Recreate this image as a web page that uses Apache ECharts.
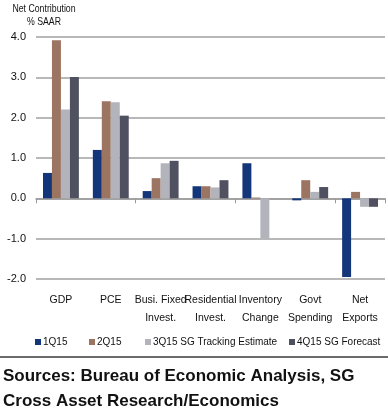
<!DOCTYPE html>
<html><head><meta charset="utf-8">
<script src="https://cdn.jsdelivr.net/npm/echarts@6/dist/echarts.min.js"></script>
<style>html,body{margin:0;padding:0;background:#fff}#c{width:388px;height:415px}</style>
</head><body><div id="c"></div>
<script>
const categories = ['GDP', 'PCE', 'Busi. Fixed\nInvest.', 'Residential\nInvest.', 'Inventory\nChange', 'Govt\nSpending', 'Net\nExports'];
const q1 = [0.63, 1.2, 0.18, 0.3, 0.87, -0.05, -1.95];
const q2 = [3.92, 2.41, 0.5, 0.3, 0.02, 0.45, 0.16];
const q3 = [2.2, 2.38, 0.87, 0.27, -1.0, 0.16, -0.21];
const q4 = [3.01, 2.05, 0.93, 0.45, 0, 0.28, -0.21];
const seriesNames = ['1Q15', '2Q15', '3Q15 SG Tracking Estimate', '4Q15 SG Forecast'];
const colors = ['#13367a', '#9c7462', '#b2b3bb', '#4f5060'];
const yTicks = { min: -2, max: 4, interval: 1 };

const FONT = '"Liberation Sans", Arial, sans-serif';
const chart = echarts.init(document.getElementById('c'), null, { renderer: 'canvas' });
const data = [q1, q2, q3, q4];
const legendLeft = [35, 89, 145, 289];
chart.setOption({
  animation: false,
  textStyle: { fontFamily: FONT },
  grid: { left: 36, right: 3, top: 37, bottom: 136, containLabel: false },
  legend: seriesNames.map((n, i) => ({
    data: [n], left: legendLeft[i], top: 337, padding: 0,
    icon: 'rect', itemWidth: 6, itemHeight: 6,
    textStyle: { fontFamily: FONT, fontSize: 10, color: '#111', padding: [0, 0, 0, -3] }
  })),
  xAxis: [
    { type: 'category', data: categories,
      axisLine: { onZero: true, lineStyle: { color: '#9a9a9a', width: 1.5 } },
      axisTick: { show: true, length: 5, lineStyle: { color: '#9a9a9a' } },
      axisLabel: { show: false } },
    { type: 'category', data: categories, position: 'bottom',
      axisLine: { show: false }, axisTick: { show: false },
      axisLabel: { show: true, interval: 0, margin: 12, fontFamily: FONT, fontSize: 10.5, color: '#111', lineHeight: 18 } }
  ],
  yAxis: {
    type: 'value', min: yTicks.min, max: yTicks.max, interval: yTicks.interval,
    axisLine: { show: false }, axisTick: { show: false },
    axisLabel: { margin: 10, formatter: v => v.toFixed(1), fontFamily: FONT, fontSize: 11, color: '#111' },
    splitLine: { lineStyle: { color: '#a0a0a0', width: 1.5 } }
  },
  series: data.map((d, i) => ({
    name: seriesNames[i], type: 'bar', data: d, xAxisIndex: 0,
    barGap: '0%', barCategoryGap: '28%',
    itemStyle: { color: colors[i] }
  })),
  graphic: [
    { type: 'text', x: 44, y: 3, scaleX: 0.76, style: { text: 'Net Contribution', align: 'center', font: '11.5px ' + FONT, fill: '#111' } },
    { type: 'text', x: 44, y: 16, scaleX: 0.76, style: { text: '% SAAR', align: 'center', font: '11.5px ' + FONT, fill: '#111' } },
    { type: 'rect', shape: { x: 0, y: 356, width: 388, height: 2 }, style: { fill: '#6b6b6b' } },
    { type: 'text', left: 3, top: 368, style: { text: 'Sources: Bureau of Economic Analysis, SG', font: 'bold 17px "Liberation Sans", Arial, sans-serif', fill: '#111' } },
    { type: 'text', left: 3, top: 393, style: { text: 'Cross Asset Research/Economics', font: 'bold 17px "Liberation Sans", Arial, sans-serif', fill: '#111' } }
  ]
});
</script></body></html>
